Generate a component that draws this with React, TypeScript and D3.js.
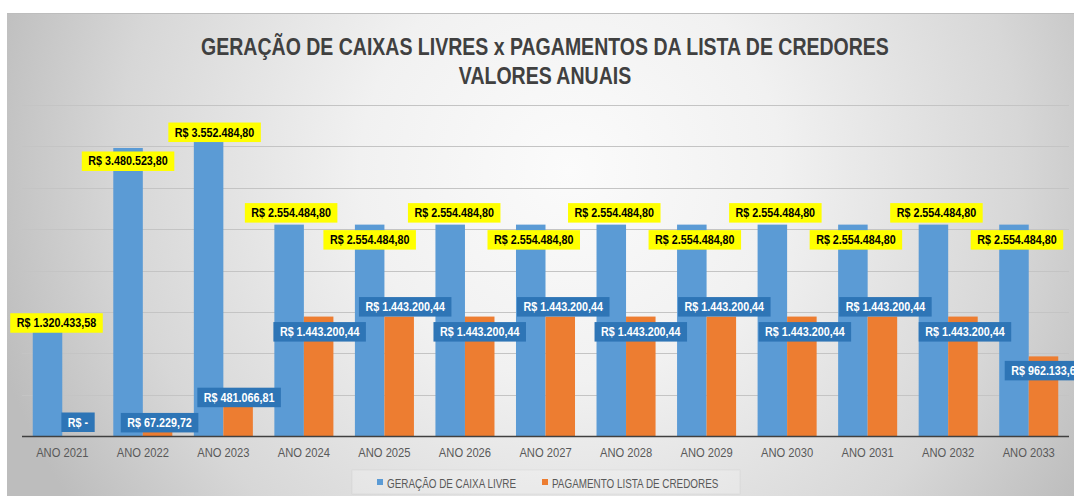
import React, { useEffect, useRef } from "react";
import * as d3 from "d3";

const categories = [
  "ANO 2021", "ANO 2022", "ANO 2023", "ANO 2024", "ANO 2025", "ANO 2026", "ANO 2027",
  "ANO 2028", "ANO 2029", "ANO 2030", "ANO 2031", "ANO 2032", "ANO 2033",
];
const geracaoCaixaLivre = [
  1320433.58, 3480523.8, 3552484.8, 2554484.8, 2554484.8, 2554484.8, 2554484.8,
  2554484.8, 2554484.8, 2554484.8, 2554484.8, 2554484.8, 2554484.8,
];
const pagamentoCredores = [
  0, 67229.72, 481066.81, 1443200.44, 1443200.44, 1443200.44, 1443200.44,
  1443200.44, 1443200.44, 1443200.44, 1443200.44, 1443200.44, 962133.63,
];
const seriesNames = ["GERAÇÃO DE CAIXA LIVRE", "PAGAMENTO LISTA DE CREDORES"];
const titleLines = [
  "GERAÇÃO DE CAIXAS LIVRES x PAGAMENTOS DA LISTA DE CREDORES",
  "VALORES ANUAIS",
];

// label placement (layout only): offset of label centre from bar top / bar centre
const yellowDy = [-4, 13, -10, -12, 15, -12, 15, -12, 15, -12, 15, -12, 15];
const blueDy = [-14, -8, 1, 15, -10, 15, -10, 15, -10, 15, -10, 15, 14];
const yellowDx = [9, 0, 6, 2, 0, 4, 3, 3, 3, 3, 3, 3, 3];
const blueDx = [1, 2, 1, 1, 6, 0, 3, 0, 3, 3, 3, 2, 3];

const W = 1074;
const H = 497;
const FONT = "'Liberation Sans', Arial, sans-serif";
const BLUE = "#5B9BD5";
const ORANGE = "#ED7D31";

const locale = d3.formatLocale({
  decimal: ",",
  thousands: ".",
  grouping: [3],
  currency: ["R$ ", ""],
});
const fmtNum = locale.format(",.2f");
const fmt = (v: number) => (v === 0 ? "R$ -" : "R$ " + fmtNum(v));

function condense(sel: d3.Selection<SVGTextElement, any, any, any>, factor: number) {
  let last = 0;
  sel.each(function () {
    const w = this.getComputedTextLength();
    last = w * factor;
    d3.select(this)
      .attr("textLength", w * factor)
      .attr("lengthAdjust", "spacingAndGlyphs");
  });
  return last;
}

export default function App() {
  const ref = useRef<SVGSVGElement>(null);

  useEffect(() => {
    const svg = d3.select(ref.current);
    svg.selectAll("*").remove();

    const defs = svg.append("defs");
    const grad = defs
      .append("radialGradient")
      .attr("id", "bg")
      .attr("gradientUnits", "userSpaceOnUse")
      .attr("cx", 570)
      .attr("cy", 170)
      .attr("r", 600);
    grad.append("stop").attr("offset", 0).attr("stop-color", "#fbfbfb");
    grad.append("stop").attr("offset", 0.35).attr("stop-color", "#f1f1f1");
    grad.append("stop").attr("offset", 0.75).attr("stop-color", "#d7d7d7");
    grad.append("stop").attr("offset", 1).attr("stop-color", "#bdbdbd");

    svg.append("rect").attr("width", W).attr("height", H).attr("fill", "#ffffff");
    svg
      .append("rect")
      .attr("x", 7)
      .attr("y", 13)
      .attr("width", W - 7)
      .attr("height", 483)
      .attr("fill", "url(#bg)");
    svg
      .append("line")
      .attr("x1", 7)
      .attr("x2", W)
      .attr("y1", 13.5)
      .attr("y2", 13.5)
      .attr("stroke", "#bdbdbd");

    const x = d3
      .scaleBand<string>()
      .domain(categories)
      .range([22, 1069])
      .paddingInner(0.267)
      .paddingOuter(0.1335);
    const xi = d3
      .scaleBand<string>()
      .domain(["g", "p"])
      .range([0, x.bandwidth()]);
    const y = d3.scaleLinear().domain([0, 4000000]).range([436, 105]);

    // gridlines
    svg
      .append("g")
      .selectAll("line")
      .data(y.ticks(8).filter((t) => t > 0))
      .join("line")
      .attr("x1", 22)
      .attr("x2", 1069)
      .attr("y1", (d) => Math.round(y(d)) + 0.5)
      .attr("y2", (d) => Math.round(y(d)) + 0.5)
      .attr("stroke", "#c4c4c4")
      .attr("stroke-width", 1);

    // title
    const t = svg
      .append("g")
      .attr("font-family", FONT)
      .attr("font-weight", "bold")
      .attr("font-size", 23)
      .attr("fill", "#404040")
      .attr("text-anchor", "middle");
    t.append("text").attr("x", 545).attr("y", 55).text(titleLines[0]);
    t.append("text").attr("x", 545).attr("y", 84).text(titleLines[1]);
    condense(t.selectAll<SVGTextElement, unknown>("text"), 0.848);

    // bars
    const groups = svg
      .append("g")
      .selectAll("g")
      .data(categories)
      .join("g")
      .attr("transform", (d) => `translate(${x(d)},0)`);
    groups
      .append("rect")
      .attr("x", xi("g")!)
      .attr("width", xi.bandwidth())
      .attr("y", (_, i) => y(geracaoCaixaLivre[i]))
      .attr("height", (_, i) => y(0) - y(geracaoCaixaLivre[i]))
      .attr("fill", BLUE);
    groups
      .append("rect")
      .attr("x", xi("p")!)
      .attr("width", xi.bandwidth())
      .attr("y", (_, i) => y(pagamentoCredores[i]))
      .attr("height", (_, i) => y(0) - y(pagamentoCredores[i]))
      .attr("fill", ORANGE);

    // axis
    svg
      .append("line")
      .attr("x1", 22)
      .attr("x2", 1069)
      .attr("y1", 436.5)
      .attr("y2", 436.5)
      .attr("stroke", "#404040")
      .attr("stroke-width", 1.6);

    const xl = svg
      .append("g")
      .attr("font-family", FONT)
      .attr("font-size", 13)
      .attr("fill", "#595959")
      .attr("text-anchor", "middle")
      .selectAll<SVGTextElement, string>("text")
      .data(categories)
      .join("text")
      .attr("x", (d) => x(d)! + x.bandwidth() / 2)
      .attr("y", 457)
      .text((d) => d);
    condense(xl, 0.86);

    // data labels
    const drawLabel = (
      cx: number,
      cy: number,
      txt: string,
      fill: string,
      color: string
    ) => {
      const g = svg.append("g");
      const rect = g.append("rect").attr("fill", fill);
      const tx = g
        .append("text")
        .attr("x", cx)
        .attr("y", cy + 4.5)
        .attr("text-anchor", "middle")
        .attr("font-family", FONT)
        .attr("font-weight", "bold")
        .attr("font-size", 12.5)
        .attr("fill", color)
        .text(txt);
      const w = condense(tx as any, 0.86);
      rect
        .attr("x", cx - w / 2 - 6.5)
        .attr("y", cy - 9.5)
        .attr("width", w + 13)
        .attr("height", 19.5);
    };

    categories.forEach((c, i) => {
      const bx = x(c)! + xi("g")! + xi.bandwidth() / 2;
      drawLabel(
        bx + yellowDx[i],
        y(geracaoCaixaLivre[i]) + yellowDy[i],
        fmt(geracaoCaixaLivre[i]),
        "#FFFF00",
        "#000000"
      );
    });
    categories.forEach((c, i) => {
      const bx = x(c)! + xi("p")! + xi.bandwidth() / 2;
      drawLabel(
        bx + blueDx[i],
        y(pagamentoCredores[i]) + blueDy[i],
        fmt(pagamentoCredores[i]),
        "#2E75B6",
        "#ffffff"
      );
    });

    // legend
    const lg = svg.append("g");
    lg.append("rect")
      .attr("x", 352)
      .attr("y", 470)
      .attr("width", 388)
      .attr("height", 24)
      .attr("fill", "rgba(255,255,255,0.22)")
      .attr("stroke", "rgba(0,0,0,0.04)");
    const items = [
      { name: seriesNames[0], color: BLUE, x: 377 },
      { name: seriesNames[1], color: ORANGE, x: 542 },
    ];
    items.forEach((it) => {
      lg.append("rect")
        .attr("x", it.x)
        .attr("y", 479)
        .attr("width", 6)
        .attr("height", 6)
        .attr("fill", it.color);
      const tx = lg
        .append("text")
        .attr("x", it.x + 10)
        .attr("y", 487.5)
        .attr("font-family", FONT)
        .attr("font-size", 13)
        .attr("fill", "#595959")
        .text(it.name);
      condense(tx as any, 0.76);
    });
  }, []);

  return (
    <svg
      ref={ref}
      width={W}
      height={H}
      style={{ position: "absolute", left: 0, top: 0, display: "block" }}
    />
  );
}
